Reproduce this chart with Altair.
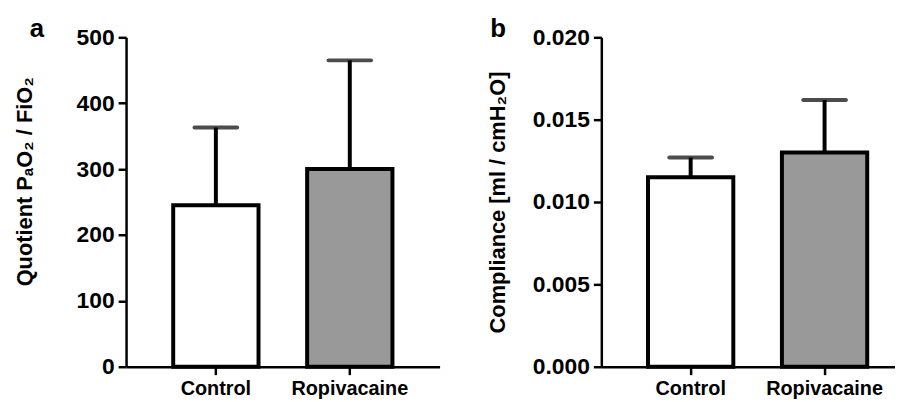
import altair as alt
import pandas as pd

groups = ["Control", "Ropivacaine"]
fills = ["#ffffff", "#999999"]

pao2_mean = [245, 300]
pao2_sd = [118, 165]
pao2_ticks = [0, 100, 200, 300, 400, 500]

compl_mean = [0.0115, 0.0130]
compl_sd = [0.0012, 0.0032]
compl_ticks = [0.0, 0.005, 0.010, 0.015, 0.020]

FONT = "Liberation Sans"
H = 332


def make_df(means, sds):
    return pd.DataFrame({
        "group": groups,
        "mean": means,
        "upper": [m + s for m, s in zip(means, sds)],
        "fill": fills,
    })


def panel(df, letter, ytitle, ticks, yfmt, width, pad_outer, align, title_dx,
          title_pad, title_y):
    xscale = alt.Scale(domain=groups, paddingInner=0.363, paddingOuter=pad_outer, align=align)
    x = alt.X("group:N", scale=xscale, sort=groups,
              axis=alt.Axis(title=None, labelAngle=0, labelFontSize=20, labelPadding=4))
    yscale = alt.Scale(domain=[0, ticks[-1]], nice=False, zero=True)
    yaxis = alt.Axis(title=ytitle, values=ticks, format=yfmt, labelFontSize=23,
                     titleFontSize=22, titlePadding=title_pad, titleY=title_y)
    base = alt.Chart(df)
    rule = base.mark_rule(color="black", strokeWidth=4, strokeCap="butt").encode(
        x=x, y=alt.Y("mean:Q", scale=yscale, axis=yaxis), y2="upper:Q")
    cap = base.mark_tick(color="black", thickness=4, size=47, cornerRadius=2).encode(
        x=x, y=alt.Y("upper:Q", scale=yscale))
    bars = base.mark_bar(stroke="black", strokeWidth=4).encode(
        x=x, y=alt.Y("mean:Q", scale=yscale, axis=yaxis),
        fill=alt.Fill("fill:N", scale=None))
    return alt.layer(rule, cap, bars).properties(
        width=width, height=H,
        title=alt.TitleParams(text=letter, anchor="start", frame="group", dx=title_dx,
                              offset=-16, fontSize=26, fontWeight="bold", font=FONT,
                              color="black"))


a = panel(make_df(pao2_mean, pao2_sd), "a", "Quotient PₐO₂ / FiO₂", pao2_ticks, "d",
          316, 0.352, 0.5, -97, 40, 145)
b = panel(make_df(compl_mean, compl_sd), "b", "Compliance [ml / cmH₂O]", compl_ticks, ".3f",
          296, 0.278, 0.627, -112, 23, H / 2)

chart = alt.hconcat(a, b, spacing=47).properties(
    padding={"left": 5, "top": 7, "right": 0, "bottom": 0}
).configure_view(stroke=None).configure_axis(
    domainColor="black", domainWidth=2.5, tickColor="black", tickWidth=2.5, tickSize=8,
    labelColor="black", labelFont=FONT, labelFontWeight="bold",
    titleColor="black", titleFont=FONT, titleFontWeight="bold", grid=False,
).configure_axisY(labelPadding=4)

chart.save("out.html", embed_options={"renderer": "svg", "actions": False})
